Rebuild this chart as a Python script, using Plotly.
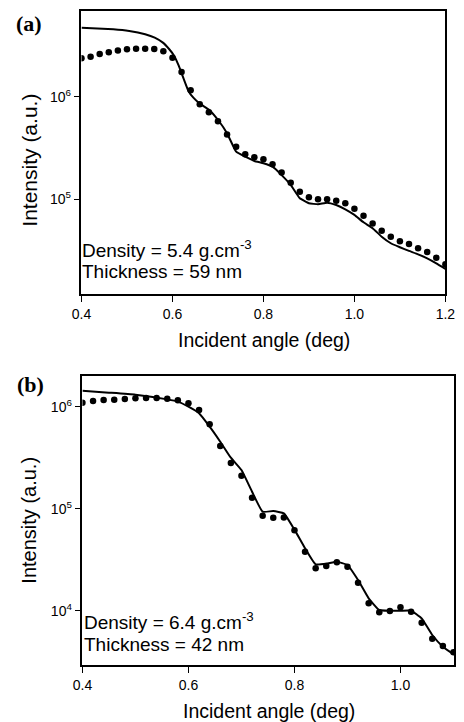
import plotly.graph_objects as go

# ---------- data: panel (a) ----------
xa_dots = [0.40,0.42,0.44,0.46,0.48,0.50,0.52,0.54,0.56,0.58,0.60,0.62,0.64,0.66,0.68,0.70,
           0.72,0.74,0.76,0.78,0.80,0.82,0.84,0.86,0.88,0.90,0.92,0.94,0.96,0.98,1.00,1.02,
           1.04,1.06,1.08,1.10,1.12,1.14,1.16,1.18,1.20]
la_dots = [6.378,6.394,6.420,6.437,6.453,6.466,6.472,6.472,6.469,6.447,6.384,6.245,6.066,5.928,5.850,5.762,
           5.632,5.514,5.440,5.411,5.391,5.342,5.262,5.162,5.074,5.020,5.000,5.000,4.986,4.961,4.908,4.840,
           4.762,4.693,4.634,4.589,4.563,4.521,4.485,4.429,4.365]
xa_fit = [0.400,0.470,0.505,0.540,0.561,0.579,0.593,0.604,0.614,0.625,0.635,0.646,0.660,0.681,0.702,
          0.72,0.74,0.76,0.78,0.80,0.82,0.84,0.86,0.88,0.90,0.92,0.94,0.96,0.98,1.00,1.02,1.04,1.06,
          1.08,1.10,1.12,1.14,1.16,1.18,1.20]
la_fit = [6.677,6.661,6.645,6.613,6.580,6.531,6.466,6.401,6.303,6.173,6.059,5.993,5.935,5.873,5.765,
          5.645,5.465,5.416,5.374,5.352,5.318,5.236,5.140,5.010,4.961,4.951,4.967,4.944,4.902,4.847,4.775,4.717,4.634,
          4.570,4.531,4.495,4.462,4.423,4.374,4.319]

# ---------- data: panel (b) ----------
xb_dots = [0.40,0.42,0.44,0.46,0.48,0.50,0.52,0.54,0.56,0.58,0.60,0.62,0.64,0.66,0.68,0.70,
           0.72,0.74,0.76,0.78,0.80,0.82,0.84,0.86,0.88,0.90,0.92,0.94,0.96,0.98,1.00,1.02,
           1.04,1.06,1.08,1.10]
lb_dots = [6.039,6.056,6.066,6.069,6.075,6.082,6.085,6.085,6.079,6.063,6.033,5.968,5.827,5.615,5.448,5.324,
           5.108,4.931,4.912,4.915,4.790,4.578,4.416,4.438,4.475,4.431,4.275,4.073,3.984,3.997,4.033,3.990,
           3.882,3.725,3.654,3.592]
xb_fit = [0.40,0.45,0.50,0.56,0.58,0.60,0.62,0.64,0.66,0.68,0.70,0.72,0.74,0.76,0.78,0.80,
          0.82,0.84,0.86,0.88,0.90,0.92,0.94,0.96,0.98,1.00,1.02,1.04,1.06,1.08,1.10]
lb_fit = [6.157,6.138,6.118,6.072,6.050,6.000,5.935,5.804,5.657,5.500,5.379,5.167,4.971,4.977,4.955,4.795,
          4.612,4.455,4.460,4.480,4.448,4.301,4.122,4.007,4.000,4.000,4.000,3.925,3.762,3.647,3.573]

tick_vals = [1e4, 1e5, 1e6]
tick_text = ["10<sup>4</sup>", "10<sup>5</sup>", "10<sup>6</sup>"]
x_ticks_a = [0.4, 0.6, 0.8, 1.0, 1.2]
x_labels_a = ["0.4", "0.6", "0.8", "1.0", "1.2"]
x_ticks_b = [0.4, 0.6, 0.8, 1.0]
x_labels_b = ["0.4", "0.6", "0.8", "1.0"]

FONT = "Liberation Sans, Arial, sans-serif"
W, H = 464, 722

def px(x):
    return x / W

def py(y):
    return 1 - y / H

fig = go.Figure()
fig.add_trace(go.Scatter(x=xa_fit, y=[10**v for v in la_fit], mode="lines",
                         line=dict(color="black", width=2, shape="spline", smoothing=0.3),
                         xaxis="x", yaxis="y", showlegend=False))
fig.add_trace(go.Scatter(x=xa_dots, y=[10**v for v in la_dots], mode="markers",
                         marker=dict(color="black", size=6.5), xaxis="x", yaxis="y", showlegend=False))
fig.add_trace(go.Scatter(x=xb_fit, y=[10**v for v in lb_fit], mode="lines",
                         line=dict(color="black", width=2, shape="spline", smoothing=0.4),
                         xaxis="x2", yaxis="y2", showlegend=False))
fig.add_trace(go.Scatter(x=xb_dots, y=[10**v for v in lb_dots], mode="markers",
                         marker=dict(color="black", size=6.5), xaxis="x2", yaxis="y2", showlegend=False))

axis_common = dict(showline=True, linecolor="black", linewidth=1.5, mirror=True,
                   ticks="outside", ticklen=6, tickwidth=1.2, tickcolor="black",
                   showgrid=False, zeroline=False,
                   tickfont=dict(family=FONT, size=14, color="black"))

fig.update_layout(
    width=W, height=H,
    margin=dict(l=0, r=0, t=0, b=0),
    paper_bgcolor="white", plot_bgcolor="white",
    font=dict(family=FONT, color="black"),
    xaxis=dict(domain=[px(74.7), px(455)], anchor="y", range=[0.4, 1.2],
               tickvals=x_ticks_a, ticktext=x_labels_a, **axis_common),
    yaxis=dict(domain=[py(294), py(11)], anchor="x", type="log", range=[4.074, 6.84],
               tickvals=tick_vals, ticktext=tick_text, **axis_common),
    xaxis2=dict(domain=[px(75.7), 1.0], anchor="y2", range=[0.4, 1.101],
                tickvals=x_ticks_b, ticktext=x_labels_b, **axis_common),
    yaxis2=dict(domain=[py(665), py(375.7)], anchor="x2", type="log", range=[3.468, 6.304],
                tickvals=tick_vals, ticktext=tick_text, **axis_common),
)

def text(t, x, y, size, xanchor="left", yanchor="middle", angle=0, family=FONT):
    fig.add_annotation(text=t, xref="paper", yref="paper", x=px(x), y=py(y),
                       xanchor=xanchor, yanchor=yanchor, textangle=angle,
                       showarrow=False, borderpad=0,
                       font=dict(family=family, size=size, color="black"))

# axis titles
text("Incident angle (deg)", 265, 340, 19.5, xanchor="center")
text("Incident angle (deg)", 270.5, 711, 19.5, xanchor="center")
text("Intensity (a.u.)", 19.5, 160, 21, xanchor="center", angle=-90)
text("Intensity (a.u.)", 19.5, 520, 20, xanchor="center", angle=-90)

# parameter labels
text("Density = 5.4 g.cm<sup>-3</sup>", 74, 249.5, 19)
text("Thickness = 59 nm", 74, 271.5, 19)
text("Density = 6.4 g.cm<sup>-3</sup>", 76.5, 621, 19)
text("Thickness = 42 nm", 76.5, 644.5, 19)

# panel labels
SERIF = "Liberation Serif, Times New Roman, serif"
text("<b>(a)</b>", 5, 23, 22, family=SERIF)
text("<b>(b)</b>", 6, 384, 22, family=SERIF)

fig.write_html("out.html")
